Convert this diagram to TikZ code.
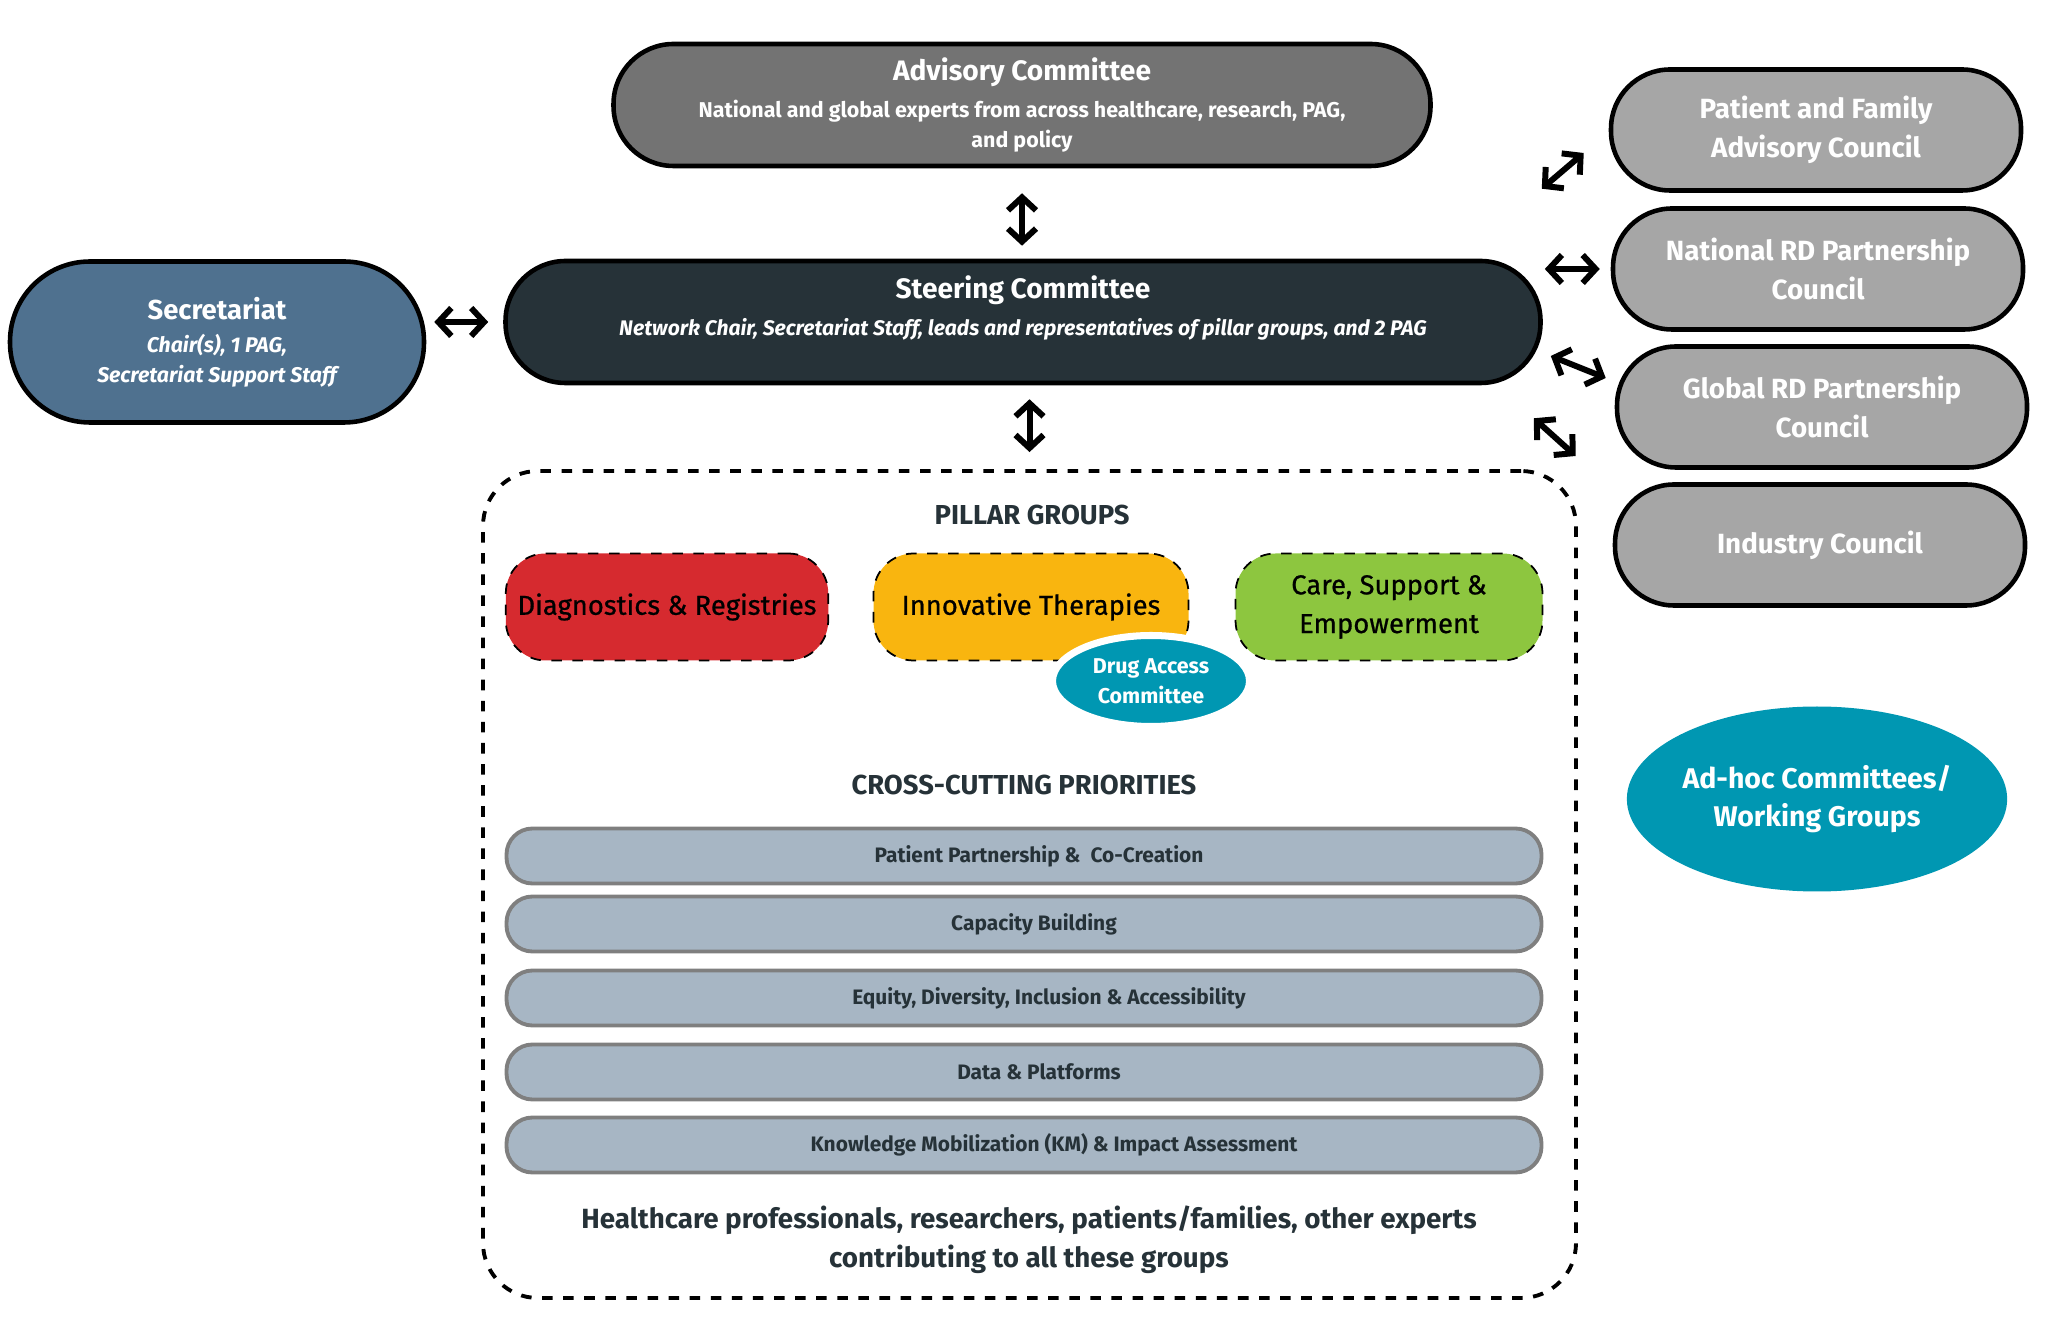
\documentclass[tikz,border=0pt]{standalone}
\usepackage{fontspec}
\setmainfont{Fira Sans}
\newfontfamily\pillarfont[FakeBold=0.7]{Fira Sans}
\usetikzlibrary{arrows.meta,shapes.geometric}

\definecolor{advgray}{HTML}{737373}
\definecolor{steerdark}{HTML}{263238}
\definecolor{secblue}{HTML}{4F718F}
\definecolor{councilgray}{HTML}{A6A6A6}
\definecolor{adhocteal}{HTML}{0097B2}
\definecolor{diagred}{HTML}{D62A2F}
\definecolor{therapyamber}{HTML}{F9B50F}
\definecolor{caregreen}{HTML}{8DC63F}
\definecolor{priobar}{HTML}{A7B6C4}
\definecolor{priorim}{HTML}{7F7F7F}

\begin{document}
\begin{tikzpicture}[x=0.1mm,y=-0.1mm,
  pill/.style={draw=black,line width=1.3pt,rounded corners=#1,align=center,text=white,inner sep=2pt},
  council/.style={pill=5.9mm,fill=councilgray,minimum width=41mm,minimum height=12.1mm,font=\fontsize{7.9}{11}\selectfont\bfseries},
  pillar/.style={draw=black,dashed,line width=0.5pt,rounded corners=4mm,minimum width=31.5mm,minimum height=10.7mm,align=center,font=\fontsize{7.8}{11}\selectfont\pillarfont},
  prio/.style={draw=priorim,line width=1.1pt,fill=priobar,rounded corners=2.6mm,minimum width=103.5mm,minimum height=5.5mm,text=steerdark,font=\fontsize{5.95}{7}\selectfont\bfseries},
  heading/.style={text=steerdark,font=\fontsize{7.8}{9}\selectfont\bfseries},
  biarrow/.style={{Straight Barb[length=1.3mm,width=2.8mm]}-{Straight Barb[length=1.3mm,width=2.8mm]},line width=1.7pt,line cap=round,line join=round}]
\useasboundingbox (0,0) rectangle (2048,1342);
% top and middle row
\node[pill=6mm,fill=advgray,minimum width=81.7mm,minimum height=12.2mm,font=\fontsize{6.1}{8.5}\selectfont\bfseries] (advisory) at (1022,105) {{\fontsize{8}{10}\selectfont Advisory Committee}\\[2pt]National and global experts from across healthcare, research, PAG,\\and policy};
\node[pill=6mm,fill=steerdark,minimum width=103.5mm,minimum height=12.2mm,font=\fontsize{6}{8.5}\selectfont\bfseries] (steering) at (1023,322) {{\fontsize{8}{10}\selectfont Steering Committee}\\[2pt]\itshape Network Chair, Secretariat Staff, leads and representatives of pillar groups, and 2 PAG\\[1pt]{}};
\node[pill=8mm,fill=secblue,minimum width=41.4mm,minimum height=16.1mm,font=\fontsize{6.05}{8.5}\selectfont\bfseries] (secretariat) at (217,342) {{\fontsize{7.8}{10}\selectfont Secretariat}\\[1pt]\itshape Chair(s), 1 PAG,\\\itshape Secretariat Support Staff};
% councils
\node[council] (patient) at (1816,130) {Patient and Family\\Advisory Council};
\node[council] (national) at (1818,269) {National RD Partnership\\Council};
\node[council] (global) at (1822,407) {Global RD Partnership\\Council};
\node[council] (industry) at (1820,545) {Industry Council};
\node[ellipse,fill=adhocteal,minimum width=37.2mm,minimum height=18.5mm,inner sep=0pt,align=center,text=white,font=\fontsize{8.1}{11}\selectfont\bfseries] (adhoc) at (1817,799) {Ad-hoc Committees/\\Working Groups};
% pillar groups and priorities
\node[draw=black,dashed,line width=1.1pt,rounded corners=5.5mm,minimum width=109.3mm,minimum height=82.7mm] (pillarbox) at (1029.5,884.5) {};
\node[heading] (pillarhead) at (1032,515) {PILLAR GROUPS};
\node[pillar,fill=diagred] (diag) at (667,607) {Diagnostics \& Registries};
\node[pillar,fill=therapyamber] (therapy) at (1031,607) {Innovative Therapies};
\node[pillar,fill=caregreen,minimum width=30.7mm] (care) at (1389,607) {Care, Support \&\\Empowerment};
\node[ellipse,draw=white,line width=2pt,fill=adhocteal,minimum width=19.7mm,minimum height=9.1mm,inner sep=0pt,align=center,text=white,font=\fontsize{6.1}{8.6}\selectfont\bfseries] (drug) at (1151,681) {Drug Access\\Committee};
\node[heading] (crosshead) at (1024,785) {CROSS-CUTTING PRIORITIES};
\node[prio] (partner) at (1024,856) {\hspace*{3mm}Patient Partnership \&\ \ Co-Creation};
\node[prio] (capacity) at (1024,924) {\hspace*{2mm}Capacity Building};
\node[prio] (equity) at (1024,998) {\hspace*{5mm}Equity, Diversity, Inclusion \& Accessibility};
\node[prio] (data) at (1024,1072) {\hspace*{3mm}Data \& Platforms};
\node[prio] (knowledge) at (1024,1145) {\hspace*{6mm}Knowledge Mobilization (KM) \& Impact Assessment};
\node[align=center,text=steerdark,font=\fontsize{7.9}{11}\selectfont\bfseries] (contrib) at (1029,1240) {Healthcare professionals, researchers, patients/families, other experts\\contributing to all these groups};
% connectors
\draw[biarrow,shorten <=2.5mm,shorten >=1.3mm] (advisory.south |- advisory.south) -- (advisory.south |- steering.north);
\draw[biarrow,shorten <=0.8mm,shorten >=1.5mm] (secretariat.east |- steering.west) -- (steering.west);
\draw[biarrow,shorten <=1.4mm,shorten >=1.7mm] (steering.south -| pillarbox.north) -- (pillarbox.north);
\draw[biarrow] ([shift={(-1,-70)}]steering.north east) -- ([shift={(-25,23)}]patient.west);
\draw[biarrow] ([shift={(2,-53)}]steering.east) -- ([shift={(-11,0)}]national.west);
\draw[biarrow] ([shift={(8,34)}]steering.east) -- ([shift={(-9,-29)}]global.west);
\draw[biarrow] ([shift={(-9,33)}]steering.south east) -- ([shift={(-37,-89)}]industry.west);
\end{tikzpicture}
\end{document}
